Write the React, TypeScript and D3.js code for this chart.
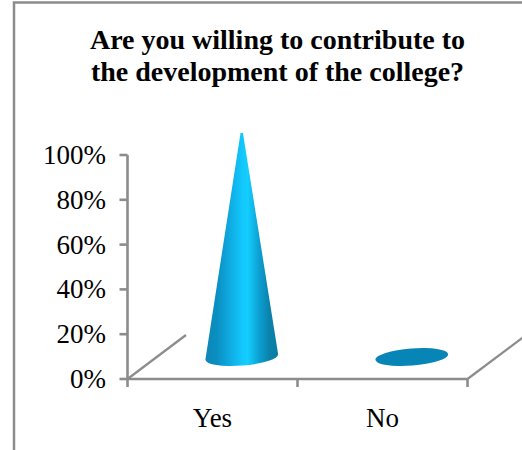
import React from "react";
import * as d3 from "d3";

const categories = ["Yes", "No"];
const values = [1.0, 0.0];
const yTicks = [0, 0.2, 0.4, 0.6, 0.8, 1.0];
const titleLines = ["Are you willing to contribute to", "the development of the college?"];

const W = 522, H = 450;
const FONT = "'Liberation Serif', 'Times New Roman', serif";
const GREY = "#8c8c8c";
const depthX = 58.5, depthY = -44;
const rx = 36.5, ry = 8.6, tilt = -4.5;

const y = d3.scaleLinear().domain([0, 1]).range([379, 155]);
const x = d3.scaleBand<string>().domain(categories).range([127.5, 467.5]);

function conePath(cx: number, cy: number, h: number) {
  const t = (tilt * Math.PI) / 180;
  const lx = cx - rx * Math.cos(t), ly = cy - rx * Math.sin(t);
  const rxp = cx + rx * Math.cos(t), ryp = cy + rx * Math.sin(t);
  return `M${lx},${ly} A${rx},${ry} ${tilt} 0 0 ${rxp},${ryp} L${cx + 1.2},${cy - h} L${cx - 1.2},${cy - h} Z`;
}

export default function App() {
  const x0 = x.range()[0], x1 = x.range()[1], y0 = y(0);
  return (
    <svg width={W} height={H} viewBox={`0 0 ${W} ${H}`} style={{ position: "absolute", left: 0, top: 0, background: "#fff" }}>
      <defs>
        <linearGradient id="cone" x1="0" x2="1" y1="0" y2="0">
          <stop offset="0" stopColor="#0e86b6" />
          <stop offset="0.16" stopColor="#0a8fc2" />
          <stop offset="0.32" stopColor="#0fa8de" />
          <stop offset="0.5" stopColor="#12c6fb" />
          <stop offset="0.58" stopColor="#14ceff" />
          <stop offset="0.74" stopColor="#0d9fd2" />
          <stop offset="0.88" stopColor="#0a82ac" />
          <stop offset="1" stopColor="#0b7ba3" />
        </linearGradient>
      </defs>
      <path d={`M14,450 V2.5 H${W}`} fill="none" stroke={GREY} strokeWidth={2.5} />
      {titleLines.map((t, i) => (
        <text key={t} x={277.5} y={49 + i * 32} textAnchor="middle" fontFamily={FONT} fontWeight="bold" fontSize={28} fill="#000">{t}</text>
      ))}
      <g stroke={GREY} fill="none">
        <path d={`M${x0},${y(1)} V${y0} H${x1}`} strokeWidth={2.6} />
        {yTicks.map((v) => <line key={v} x1={x0 - 8} x2={x0} y1={y(v)} y2={y(v)} strokeWidth={2.6} />)}
        {[x0, x0 + x.bandwidth(), x1].map((v) => <line key={v} x1={v} x2={v} y1={y0} y2={y0 + 8} strokeWidth={2.6} />)}
        <line x1={x0} y1={y0} x2={x0 + depthX} y2={y0 + depthY} strokeWidth={2.2} />
        <line x1={x1} y1={y0} x2={x1 + depthX} y2={y0 + depthY} strokeWidth={2.2} />
      </g>
      {yTicks.map((v) => (
        <text key={v} x={106} y={y(v) + 9} textAnchor="end" fontFamily={FONT} fontSize={27} fill="#000">{d3.format(".0%")(v)}</text>
      ))}
      {categories.map((c) => (
        <text key={c} x={x(c)! + x.bandwidth() / 2} y={427} textAnchor="middle" fontFamily={FONT} fontSize={27} fill="#000">{c}</text>
      ))}
      {categories.map((c, i) => {
        const cx = x(c)! + x.bandwidth() / 2 + depthX / 2;
        const cy = y0 + depthY / 2;
        const h = y0 - y(values[i]);
        return h > 0
          ? <path key={c} d={conePath(cx, cy, h)} fill="url(#cone)" />
          : <ellipse key={c} cx={cx} cy={cy} rx={rx} ry={ry} transform={`rotate(${tilt} ${cx} ${cy})`} fill="#0785b7" />;
      })}
    </svg>
  );
}
